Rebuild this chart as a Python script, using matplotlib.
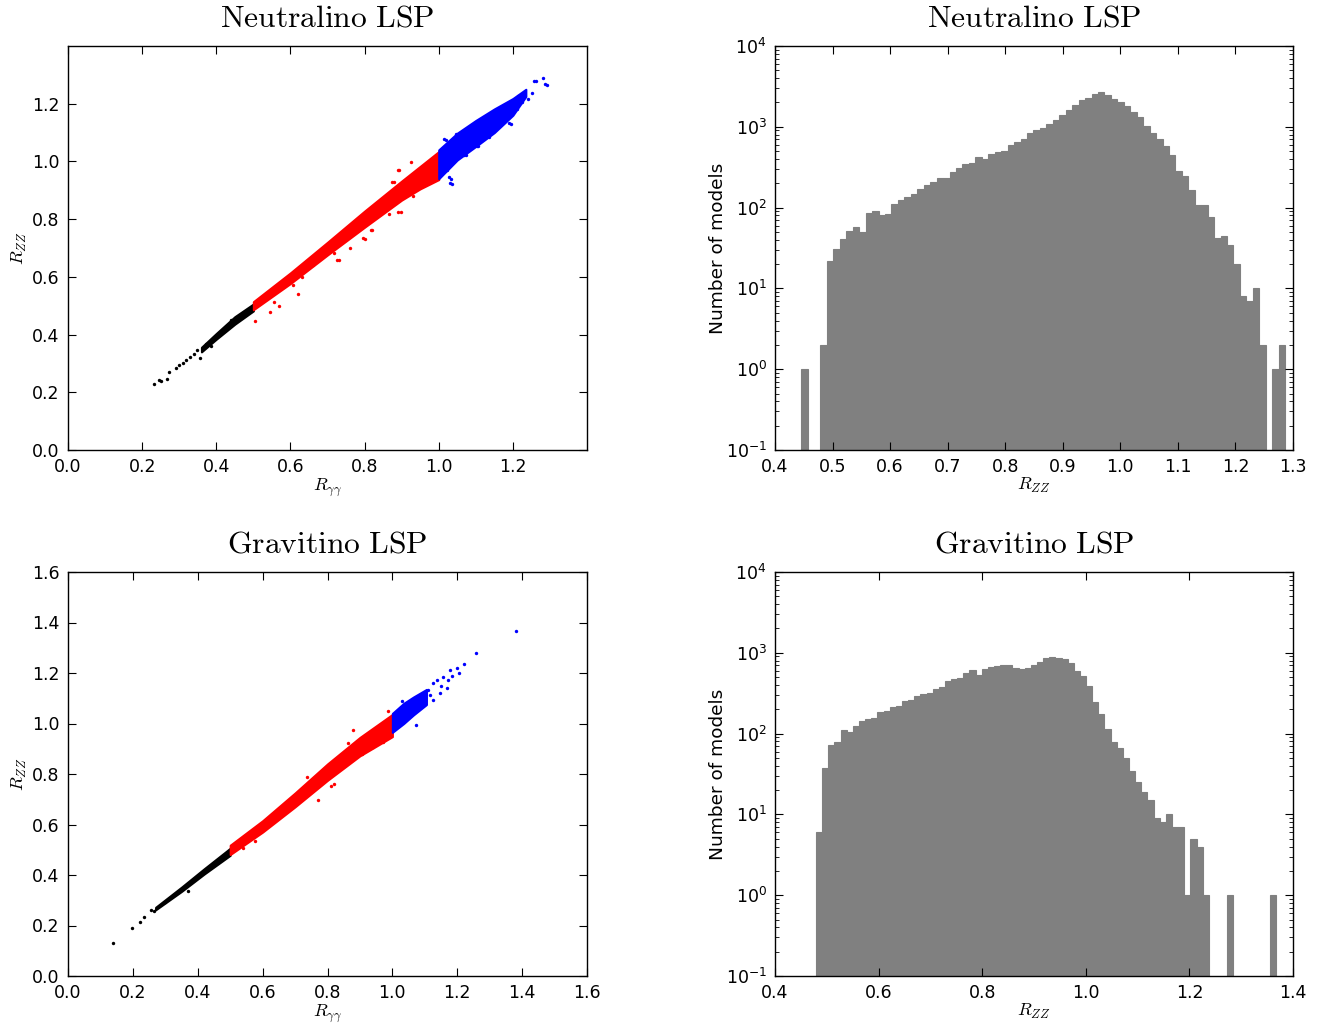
import numpy as np
import matplotlib
matplotlib.use("Agg")
import matplotlib.pyplot as plt

plt.rcParams['mathtext.fontset'] = 'cm'
plt.rcParams['font.family'] = ['DejaVu Sans']

# ---------------- data: neutralino scatter ----------------
n_black_band_x = [0.36, 0.40, 0.45, 0.50]
n_black_band_lo = [0.340, 0.384, 0.436, 0.482]
n_black_band_hi = [0.356, 0.404, 0.462, 0.506]
n_black_pts_x = [0.231, 0.245, 0.252, 0.266, 0.273, 0.291, 0.300, 0.310, 0.318, 0.330, 0.340,
                 0.356, 0.349, 0.372, 0.385, 0.420, 0.440]
n_black_pts_y = [0.229, 0.241, 0.238, 0.246, 0.272, 0.285, 0.296, 0.301, 0.313, 0.322, 0.334,
                 0.318, 0.346, 0.368, 0.362, 0.412, 0.452]

n_red_band_x = [0.50, 0.60, 0.70, 0.80, 0.90, 0.95, 1.00]
n_red_band_lo = [0.486, 0.577, 0.676, 0.772, 0.866, 0.905, 0.937]
n_red_band_hi = [0.514, 0.614, 0.720, 0.828, 0.932, 0.983, 1.034]
n_red_pts_x = [0.505, 0.544, 0.556, 0.568, 0.621, 0.631, 0.606, 0.726, 0.796, 0.817, 0.891,
               0.875, 0.891, 0.924, 0.865, 0.762, 0.893, 0.879, 0.897, 0.821, 0.801, 0.731,
               0.717, 0.660, 0.930, 0.960]
n_red_pts_y = [0.446, 0.478, 0.513, 0.500, 0.539, 0.600, 0.573, 0.657, 0.733, 0.762, 0.825,
               0.927, 0.970, 0.999, 0.818, 0.700, 0.969, 0.928, 0.825, 0.761, 0.731, 0.657,
               0.681, 0.640, 0.880, 0.920]

n_blue_band_x = [1.00, 1.05, 1.10, 1.15, 1.20, 1.235]
n_blue_band_lo = [0.940, 1.005, 1.052, 1.100, 1.160, 1.225]
n_blue_band_hi = [1.040, 1.098, 1.142, 1.182, 1.218, 1.250]
n_blue_pts_x = [1.031, 1.028, 1.017, 1.015, 1.068, 1.103, 1.131, 1.190, 1.257, 1.280, 1.288,
                1.251, 1.226, 1.240, 1.212, 1.019, 1.046, 1.100, 1.136, 1.107, 1.073, 1.195,
                1.213, 1.262, 1.292, 1.037, 1.032, 1.023]
n_blue_pts_y = [0.926, 0.947, 0.970, 1.076, 1.022, 1.053, 1.088, 1.132, 1.280, 1.288, 1.269,
                1.238, 1.207, 1.215, 1.180, 1.075, 1.096, 1.136, 1.084, 1.053, 1.021, 1.130,
                1.228, 1.278, 1.266, 0.923, 0.940, 0.969]

# ---------------- data: gravitino scatter ----------------
g_black_band_x = [0.27, 0.35, 0.42, 0.50]
g_black_band_lo = [0.262, 0.335, 0.404, 0.478]
g_black_band_hi = [0.272, 0.352, 0.425, 0.506]
g_black_pts_x = [0.138, 0.198, 0.222, 0.234, 0.256, 0.370, 0.265, 0.300]
g_black_pts_y = [0.132, 0.190, 0.214, 0.234, 0.260, 0.336, 0.258, 0.292]

g_red_band_x = [0.50, 0.60, 0.70, 0.80, 0.90, 1.00]
g_red_band_lo = [0.481, 0.570, 0.670, 0.775, 0.872, 0.948]
g_red_band_hi = [0.518, 0.615, 0.725, 0.840, 0.945, 1.036]
g_red_pts_x = [0.540, 0.575, 0.770, 0.736, 0.811, 0.862, 0.970, 0.986, 0.655, 0.905, 0.820,
               0.940, 0.880]
g_red_pts_y = [0.508, 0.535, 0.697, 0.788, 0.752, 0.924, 0.928, 1.049, 0.660, 0.880, 0.760,
               0.905, 0.975]

g_blue_band_x = [1.00, 1.035, 1.065, 1.105]
g_blue_band_lo = [0.965, 1.000, 1.034, 1.075]
g_blue_band_hi = [1.040, 1.080, 1.105, 1.135]
g_blue_pts_x = [1.029, 1.073, 1.380, 1.258, 1.220, 1.198, 1.206, 1.178, 1.172, 1.167, 1.147,
                1.126, 1.111, 1.059, 1.137, 1.157, 1.116, 1.150, 1.185, 1.125]
g_blue_pts_y = [1.090, 0.994, 1.367, 1.280, 1.236, 1.219, 1.200, 1.212, 1.172, 1.139, 1.120,
                1.093, 1.133, 1.093, 1.172, 1.185, 1.113, 1.150, 1.190, 1.160]

# ---------------- data: histograms ----------------
n_hist_range = (0.4454, 1.2863)
n_counts = [1, 0, 0, 2, 22, 31, 41, 51, 58, 50, 85, 92, 80, 83, 111, 124, 134, 147, 170, 192,
            207, 235, 230, 276, 306, 350, 360, 419, 396, 465, 492, 507, 601, 655, 706, 830, 912, 980,
            1082, 1202, 1400, 1630, 1880, 2128, 2296, 2525, 2700, 2454, 2233, 2031, 1795, 1528,
            1313, 1025, 848, 714, 580, 444, 284, 246, 167, 109, 109, 77, 42, 44, 34, 20, 8, 7, 10,
            2, 0, 1, 2]

g_hist_range = (0.4793, 1.3677)
g_counts = [6, 38, 72, 79, 110, 105, 125, 143, 151, 154, 186, 192, 213, 221, 252, 260, 291, 311,
            320, 359, 376, 446, 468, 486, 566, 617, 525, 629, 665, 685, 698, 698, 647, 634, 653,
            705, 780, 855, 876, 860, 843, 738, 600, 515, 383, 243, 177, 115, 79, 67, 50, 34, 25,
            19, 15, 9, 8, 10, 7, 7, 1, 5, 4, 1, 0, 0, 0, 1, 0, 0, 0, 0, 0, 0, 1]

W, H = 1330, 1028
fig = plt.figure(figsize=(W / 100, H / 100), dpi=100)

def fr(x0, y0, x1, y1):
    return [x0 / W, 1 - y1 / H, (x1 - x0) / W, (y1 - y0) / H]

ax_tl = fig.add_axes(fr(68, 46, 587, 450))
ax_tr = fig.add_axes(fr(775, 46, 1293, 450))
ax_bl = fig.add_axes(fr(68, 572, 587, 976))
ax_br = fig.add_axes(fr(775, 572, 1293, 976))

TICK_FS = 12.5
TITLE_FS = 22.7

def style(ax):
    ax.tick_params(which='both', direction='in', top=True, right=True, labelsize=TICK_FS,
                   pad=6)
    ax.tick_params(which='major', length=6, width=0.8)
    ax.tick_params(which='minor', length=3, width=0.6)
    for s in ax.spines.values():
        s.set_linewidth(1.0)

def scatter_panel(ax, groups):
    for color, bx, blo, bhi, px, py in groups:
        ax.fill_between(bx, blo, bhi, color=color, linewidth=1.5, edgecolor=color, zorder=2)
        ax.scatter(px, py, s=6, c=color, linewidths=0, zorder=3)

scatter_panel(ax_tl, [
    ('k', n_black_band_x, n_black_band_lo, n_black_band_hi, n_black_pts_x, n_black_pts_y),
    ('r', n_red_band_x, n_red_band_lo, n_red_band_hi, n_red_pts_x, n_red_pts_y),
    ('b', n_blue_band_x, n_blue_band_lo, n_blue_band_hi, n_blue_pts_x, n_blue_pts_y),
])
scatter_panel(ax_bl, [
    ('k', g_black_band_x, g_black_band_lo, g_black_band_hi, g_black_pts_x, g_black_pts_y),
    ('r', g_red_band_x, g_red_band_lo, g_red_band_hi, g_red_pts_x, g_red_pts_y),
    ('b', g_blue_band_x, g_blue_band_lo, g_blue_band_hi, g_blue_pts_x, g_blue_pts_y),
])

ax_tl.set_xlim(0, 1.4)
ax_tl.set_ylim(0, 1.4)
ax_tl.set_xticks(np.arange(0, 1.21, 0.2))
ax_tl.set_yticks(np.arange(0, 1.21, 0.2))
ax_bl.set_xlim(0, 1.6)
ax_bl.set_ylim(0, 1.6)
ax_bl.set_xticks(np.arange(0, 1.61, 0.2))
ax_bl.set_yticks(np.arange(0, 1.61, 0.2))
for ax in (ax_tl, ax_bl):
    ax.xaxis.set_major_formatter(matplotlib.ticker.FormatStrFormatter('%.1f'))
    ax.yaxis.set_major_formatter(matplotlib.ticker.FormatStrFormatter('%.1f'))
    ax.set_xlabel(r'$R_{\gamma\gamma}$', fontsize=13, labelpad=0)
    ax.set_ylabel(r'$R_{ZZ}$', fontsize=13, labelpad=2)
    style(ax)

def hist_panel(ax, counts, rng):
    counts = np.asarray(counts, dtype=float)
    edges = np.linspace(rng[0], rng[1], len(counts) + 1)
    ax.bar(edges[:-1], counts, width=np.diff(edges), align='edge', color='#808080',
           edgecolor='#808080', linewidth=0.8, log=True)
    ax.set_yscale('log')
    ax.set_ylim(1e-1, 1e4)
    ax.set_ylabel('Number of models', fontsize=13.3, labelpad=-1)
    ax.set_xlabel(r'$R_{ZZ}$', fontsize=13, labelpad=0)
    style(ax)

hist_panel(ax_tr, n_counts, n_hist_range)
ax_tr.set_xlim(0.4, 1.3)
ax_tr.set_xticks(np.arange(0.4, 1.301, 0.1))
ax_tr.xaxis.set_major_formatter(matplotlib.ticker.FormatStrFormatter('%.1f'))
hist_panel(ax_br, g_counts, g_hist_range)
ax_br.set_xlim(0.4, 1.4)
ax_br.set_xticks(np.arange(0.4, 1.401, 0.2))
ax_br.xaxis.set_major_formatter(matplotlib.ticker.FormatStrFormatter('%.1f'))

for ax, t in ((ax_tl, 'Neutralino LSP'), (ax_tr, 'Neutralino LSP'),
              (ax_bl, 'Gravitino LSP'), (ax_br, 'Gravitino LSP')):
    ax.set_title(r'$\mathrm{' + t.replace(' ', r'\ ') + '}$', fontsize=TITLE_FS, pad=14)

fig.savefig('out.png', dpi=100)
